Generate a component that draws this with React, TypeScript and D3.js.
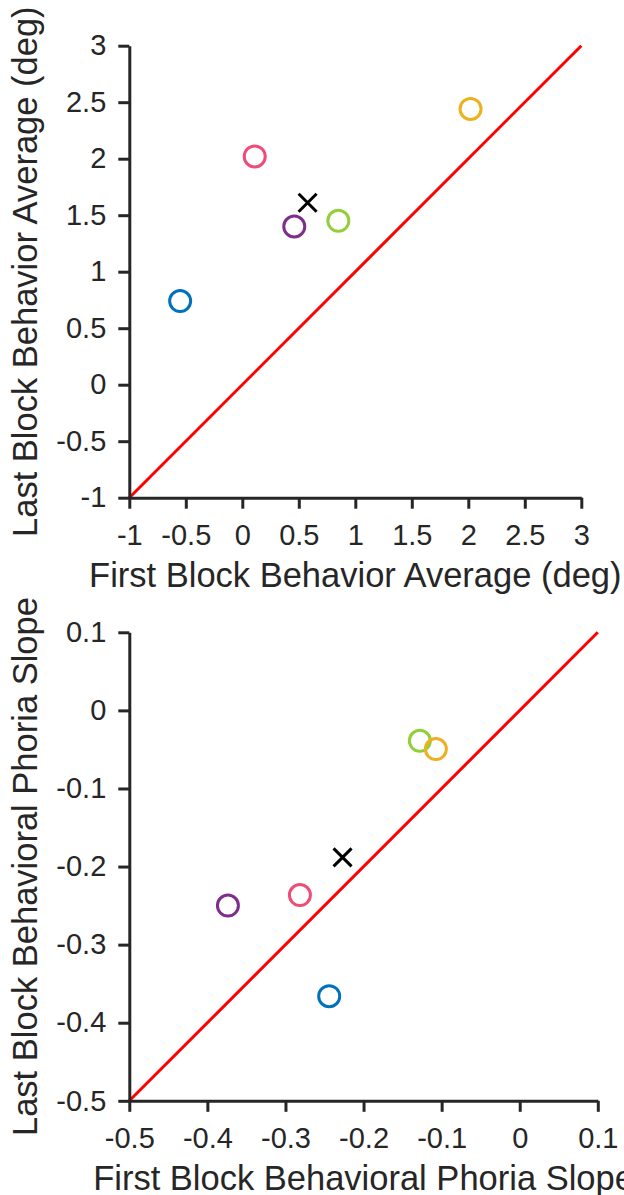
import React, { useEffect, useRef } from 'react';
import * as d3 from 'd3';

// subjects, drawn in this order
const colors = ['#0072BD', '#EE4D79', '#7E2F8E', '#92CF3A', '#EDB120'];

// top panel: behavior average (deg)
const firstAvg = [-0.55, 0.11, 0.46, 0.85, 2.02];
const lastAvg = [0.74, 2.02, 1.4, 1.45, 2.44];
const avgTicks = [-1, -0.5, 0, 0.5, 1, 1.5, 2, 2.5, 3];

// bottom panel: behavioral phoria slope
const firstSlope = [-0.244, -0.2815, -0.3737, -0.1279, -0.1074];
const lastSlope = [-0.366, -0.2365, -0.25, -0.039, -0.0495];
const slopeTicks = [-0.5, -0.4, -0.3, -0.2, -0.1, 0, 0.1];

const FONT = '"Liberation Sans", Arial, Helvetica, sans-serif';
const INK = '#262626';

function drawPanel(svg, cfg) {
  const { xs, ys, ticks, left, top, size, xLabel, yLabel } = cfg;
  const [lo, hi] = d3.extent(ticks);
  const x = d3.scaleLinear().domain([lo, hi]).range([left, left + size]);
  const y = d3.scaleLinear().domain([lo, hi]).range([top + size, top]);
  const fmt = (d) => String(d);

  const g = svg.append('g');

  // identity line
  g.append('line')
    .attr('x1', x(lo)).attr('y1', y(lo))
    .attr('x2', x(hi)).attr('y2', y(hi))
    .attr('stroke', '#ff0000')
    .attr('stroke-width', 3);

  const xa = g.append('g')
    .attr('transform', `translate(0,${top + size})`)
    .call(d3.axisBottom(x).tickValues(ticks).tickFormat(fmt).tickSize(11).tickSizeOuter(0).tickPadding(16));
  const ya = g.append('g')
    .attr('transform', `translate(${left},0)`)
    .call(d3.axisLeft(y).tickValues(ticks).tickFormat(fmt).tickSize(11).tickSizeOuter(0).tickPadding(12));

  [xa, ya].forEach((a) => {
    a.attr('font-family', FONT).attr('font-size', 29);
    a.selectAll('path, line').attr('stroke', INK).attr('stroke-width', 3);
    a.selectAll('text').attr('fill', INK);
  });

  // subjects
  xs.forEach((v, i) => {
    g.append('circle')
      .attr('cx', x(v)).attr('cy', y(ys[i]))
      .attr('r', 10.5)
      .attr('fill', 'none')
      .attr('stroke', colors[i])
      .attr('stroke-width', 3);
  });

  // group mean
  const mx = x(d3.mean(xs));
  const my = y(d3.mean(ys));
  const s = 9;
  g.append('path')
    .attr('d', `M${mx - s},${my - s}L${mx + s},${my + s}M${mx - s},${my + s}L${mx + s},${my - s}`)
    .attr('stroke', '#000')
    .attr('stroke-width', 3);

  g.append('text')
    .attr('x', left + size / 2)
    .attr('y', top + size + 89)
    .attr('text-anchor', 'middle')
    .attr('font-family', FONT)
    .attr('font-size', 34.5)
    .attr('fill', INK)
    .text(xLabel);

  g.append('text')
    .attr('transform', `translate(37,${top + size / 2}) rotate(-90)`)
    .attr('text-anchor', 'middle')
    .attr('font-family', FONT)
    .attr('font-size', 34.5)
    .attr('fill', INK)
    .text(yLabel);
}

export default function App() {
  const ref = useRef(null);

  useEffect(() => {
    const svg = d3.select(ref.current);
    svg.selectAll('*').remove();

    drawPanel(svg, {
      xs: firstAvg, ys: lastAvg, ticks: avgTicks,
      left: 129.3, top: 45.7, size: 452,
      xLabel: 'First Block Behavior Average (deg)',
      yLabel: 'Last Block Behavior Average (deg)',
    });

    drawPanel(svg, {
      xs: firstSlope, ys: lastSlope, ticks: slopeTicks,
      left: 129.3, top: 632.3, size: 468.5,
      xLabel: 'First Block Behavioral Phoria Slope',
      yLabel: 'Last Block Behavioral Phoria Slope',
    });
  }, []);

  return (
    <svg
      ref={ref}
      width={624}
      height={1195}
      style={{ position: 'absolute', left: 0, top: 0, background: '#fff' }}
    />
  );
}
